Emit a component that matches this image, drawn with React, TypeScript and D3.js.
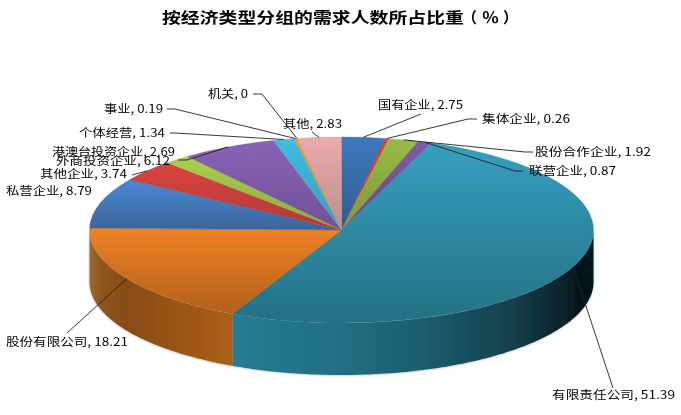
import React from "react";
import * as d3 from "d3";

const titleMain = "按经济类型分组的需求人数所占比重";
const titleUnit = ["（","％","）"];
const categories = ["国有企业","集体企业","股份合作企业","联营企业","有限责任公司","股份有限公司","私营企业","其他企业","港澳台投资企业","外商投资企业","个体经营","事业","机关","其他"];
// values printed on the labels
const labelValues = [2.75,0.26,1.92,0.87,51.39,18.21,8.79,3.74,2.69,6.12,1.34,0.19,0,2.83];
// slice sizes as drawn in the picture (the 港澳台 slice is drawn narrower than its printed 2.69)
const sliceValues = [2.75,0.26,1.92,0.87,51.39,18.21,8.79,3.74,1.69,6.12,1.34,0.19,0,2.83];
const topColors = [["#3d78bd","#2f5c8f"],["#d0453f","#a83a34"],["#9aba45","#7d963a"],["#7f5aa8","#634a85"],["#36a0c0","#257083"],["#ef8226","#b2601c"],["#4a88d2","#3a6699"],["#da4440","#b03a36"],["#aad04e","#8aa83f"],["#8a62b5","#6f5296"],["#40bde0","#35a0bd"],["#f09a40","#d08030"],["#999999","#888888"],["#eaabab","#bb8e8e"]];

// label layout: [left x, baseline y, text width]
const labelBoxes: [number,number,number][] = [[378,109,85],[482,123,88],[535,156,116],[529,175,87],[552,399,123],[6,346,122],[6,195,86],[40,178,87],[52,156,123],[56,165,114],[79,137,86],[104,113,59],[208,98,40],[283,128,59]];
// leader lines: label-side points, ending at slice mid-point on the rim (null = no leader)
const leaderStarts: ([number,number][]|null)[] = [[[421,114]],[[477,119],[468,119]],[[533,152],[525,152]],[[523,171],[515,171]],[[613,388]],[[67,333]],null,[[132,175]],null,[[178,160],[187,160]],[[170,133],[175,133]],[[167,109],[175,109]],[[253,94],[262,94]],[[312,132]]];

const W=681,H=415,cx=341.5,cy=230,rx=252,ry=93,depth=52;
const pt=(a:number):[number,number]=>[cx+rx*Math.sin(a),cy-ry*Math.cos(a)];
const pieGen=d3.pie<number>().sort(null).value(d=>d);
const arcs=pieGen(sliceValues);
const arcGen=d3.arc<any>().innerRadius(0).outerRadius(rx);
const line=d3.line();
const fmt=(i:number)=>`${categories[i]}, ${labelValues[i]}`;

function sidePath(a0:number,a1:number){
  const s=Math.max(a0,Math.PI/2), e=Math.min(a1,Math.PI*1.5);
  if(e<=s) return null;
  const pts=d3.range(0,121).map(k=>pt(s+(e-s)*k/120));
  const lower=pts.slice().reverse().map(([x,y])=>[x,y+depth] as [number,number]);
  return line([...pts,...lower])+"Z";
}

const sideStops: Record<number,[number,string][]> = {
  4:[[0,"#267c92"],[0.3,"#226f84"],[0.55,"#1b5a6b"],[0.78,"#143f4b"],[0.92,"#0a2229"],[0.97,"#041215"],[1,"#061a1e"]],
  5:[[0,"#a06a30"],[0.08,"#8d5520"],[0.25,"#884c14"],[0.6,"#985414"],[1,"#ad6018"]],
};

export default function App(){
  return (
    <svg width={W} height={H} style={{position:"absolute",left:0,top:0,background:"#fff"}} fontFamily="'Noto Sans CJK SC','Noto Sans',sans-serif">
      <defs>
        <filter id="soft" x="-5%" y="-5%" width="110%" height="110%"><feGaussianBlur stdDeviation="0.35"/></filter>
        <filter id="shadow" x="-5%" y="-10%" width="110%" height="125%"><feDropShadow dx="0" dy="0.3" stdDeviation="1.3" floodColor="#000" floodOpacity="0.3"/></filter>
        {arcs.map((_,i)=>(
          <linearGradient key={i} id={`top${i}`} x1="0" y1="0" x2="0" y2="1">
            <stop offset="0" stopColor={topColors[i][0]}/><stop offset="1" stopColor={topColors[i][1]}/>
          </linearGradient>
        ))}
        {Object.entries(sideStops).map(([k,st])=>(
          <linearGradient key={k} id={`side${k}`} x1="0" y1="0" x2="1" y2="0">
            {st.map(([o,c],j)=><stop key={j} offset={o} stopColor={c}/>)}
          </linearGradient>
        ))}
      </defs>
      <g filter="url(#shadow)">
        {arcs.map((d,i)=>{
          const p=sidePath(d.startAngle,d.endAngle);
          return p?<path key={i} d={p} fill={sideStops[i]?`url(#side${i})`:topColors[i][1]}/>:null;
        })}
      </g>
      <g transform={`translate(${cx},${cy}) scale(1,${ry/rx})`}>
        {arcs.map((d,i)=> d.value>0 ? (
          <path key={i} d={arcGen(d)||""} fill={`url(#top${i})`} stroke={topColors[i][1]} strokeOpacity={0.6} strokeWidth={0.5} vectorEffect="non-scaling-stroke"/>
        ):null)}
      </g>
      <g fill="none" stroke="#222" strokeWidth={0.9}>
        {arcs.map((d,i)=>{
          const st=leaderStarts[i]; if(!st) return null;
          const mid=(d.startAngle+d.endAngle)/2;
          return <path key={i} d={line([...st,pt(mid)])||""}/>;
        })}
      </g>
      <g filter="url(#soft)" fill="#000" fontSize={11.5}>
        {categories.map((_,i)=>{
          const [x,y,w]=labelBoxes[i];
          return <text key={i} x={x} y={y} textLength={w} lengthAdjust="spacingAndGlyphs">{fmt(i)}</text>;
        })}
        <g fontSize={15} fontWeight={700}>
          <text x={162} y={23} textLength={302} lengthAdjust="spacingAndGlyphs">{titleMain}</text>
          <text x={462} y={23}>{titleUnit[0]}</text>
          <text x={482} y={23} textLength={17} lengthAdjust="spacingAndGlyphs">{titleUnit[1]}</text>
          <text x={503} y={23}>{titleUnit[2]}</text>
        </g>
      </g>
    </svg>
  );
}
